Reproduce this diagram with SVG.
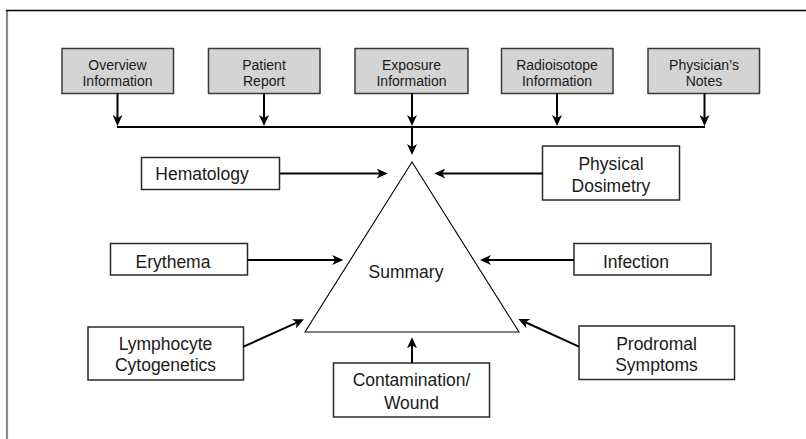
<svg xmlns="http://www.w3.org/2000/svg" width="806" height="439" viewBox="0 0 806 439">
<style>
.top rect{fill:#d4d4d4;stroke:#3a3a3a;stroke-width:1.5}
.box rect{fill:#fff;stroke:#2a2a2a;stroke-width:1.5}
text{font-family:"Liberation Sans",Arial,sans-serif;fill:#1a1a1a;text-anchor:middle}
.top text{font-size:14px}
.box text,.sum{font-size:17.5px}
.c line{stroke:#000;stroke-width:2}
.a{marker-end:url(#ah)}
</style>
<defs>
<marker id="ah" markerUnits="userSpaceOnUse" markerWidth="12" markerHeight="10" refX="5" refY="5" orient="auto" viewBox="0 0 11 10">
<path d="M0,0 L11,5 L0,10 L3,5 z" fill="#000"/>
</marker>
</defs>
<g id="frame">
<line x1="7" y1="10" x2="7" y2="439" stroke="#8a8a8a" stroke-width="2.2"/>
<line x1="6" y1="10.5" x2="806" y2="10.5" stroke="#000" stroke-width="1.5"/>
</g>
<g id="overview" class="top"><rect x="62" y="48.5" width="111.5" height="45"/><text x="117.5" y="70">Overview</text><text x="117.5" y="86">Information</text></g>
<g id="patient" class="top"><rect x="208.5" y="48.5" width="111.5" height="45"/><text x="264" y="70">Patient</text><text x="264" y="86">Report</text></g>
<g id="exposure" class="top"><rect x="355" y="48.5" width="113" height="45"/><text x="411.5" y="70">Exposure</text><text x="411.5" y="86">Information</text></g>
<g id="radioisotope" class="top"><rect x="501.5" y="48.5" width="111.5" height="45"/><text x="557" y="70">Radioisotope</text><text x="557" y="86">Information</text></g>
<g id="physician" class="top"><rect x="648" y="48.5" width="111.5" height="45"/><text x="704" y="70">Physician’s</text><text x="704" y="86">Notes</text></g>
<g id="summary"><polygon points="412,162 305,332 519,332" fill="none" stroke="#000" stroke-width="1.1"/><text class="sum" x="406" y="277.5">Summary</text></g>
<g id="hematology" class="box"><rect x="141.5" y="157.5" width="138" height="32"/><text x="202" y="179.5">Hematology</text></g>
<g id="physical" class="box"><rect x="542.5" y="146" width="137" height="54"/><text x="611" y="169.5">Physical</text><text x="611" y="191.5">Dosimetry</text></g>
<g id="erythema" class="box"><rect x="110.5" y="243.5" width="137" height="31.5"/><text x="173" y="267.5">Erythema</text></g>
<g id="infection" class="box"><rect x="574" y="243.5" width="137" height="31.5"/><text x="636" y="267.5">Infection</text></g>
<g id="lymphocyte" class="box"><rect x="88" y="327" width="155.5" height="53"/><text x="165.5" y="349.5">Lymphocyte</text><text x="165.5" y="371">Cytogenetics</text></g>
<g id="contamination" class="box"><rect x="333.5" y="363" width="156" height="54"/><text x="411.5" y="386">Contamination/</text><text x="411.5" y="408.5">Wound</text></g>
<g id="prodromal" class="box"><rect x="579" y="326" width="155.5" height="53.5"/><text x="656.5" y="349.5">Prodromal</text><text x="656.5" y="370.5">Symptoms</text></g>
<g id="connectors" class="c">
<line x1="117" y1="127" x2="705" y2="127"/>
<line class="a" x1="117.5" y1="93.5" x2="117.5" y2="120"/>
<line class="a" x1="264" y1="93.5" x2="264" y2="120"/>
<line class="a" x1="412" y1="93.5" x2="412" y2="120"/>
<line class="a" x1="557" y1="93.5" x2="557" y2="120"/>
<line class="a" x1="704.5" y1="93.5" x2="704.5" y2="120"/>
<line class="a" x1="412" y1="128" x2="412" y2="149"/>
<line class="a" x1="279.5" y1="173.5" x2="381.7" y2="173.5"/>
<line class="a" x1="542.5" y1="173.5" x2="440.3" y2="173.5"/>
<line class="a" x1="247.5" y1="260" x2="337.3" y2="260"/>
<line class="a" x1="574" y1="260" x2="486" y2="260"/>
<line class="a" x1="243.5" y1="346.7" x2="298.5" y2="321.8"/>
<line class="a" x1="579" y1="346.7" x2="523.8" y2="321.5"/>
<line class="a" x1="412" y1="363" x2="412" y2="343.3"/>
</g>
</svg>
